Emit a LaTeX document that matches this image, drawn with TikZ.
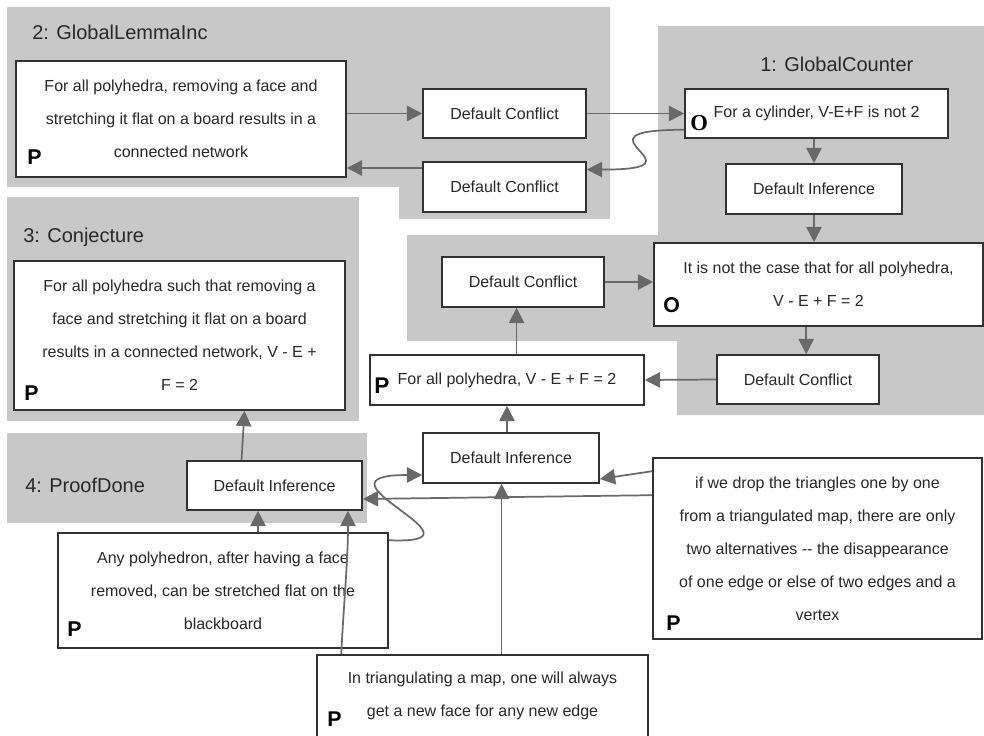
\documentclass[tikz,border=0pt]{standalone}
\usepackage{fontspec}
\setmainfont{Liberation Sans}
\newfontfamily\serifbold{Liberation Serif}
\usetikzlibrary{arrows.meta,calc,positioning}
\definecolor{regionfill}{RGB}{200,200,200}
\definecolor{linkgray}{RGB}{105,105,105}
\definecolor{boxline}{RGB}{50,50,50}
\definecolor{inktext}{RGB}{40,40,40}
\newdimen\pxu \pxu=0.75pt
\begin{document}
\begin{tikzpicture}[x=0.75pt, y=-0.75pt,
	region/.style={fill=regionfill, draw=none},
	regiontitle/.style={anchor=base west, inner sep=0, text=inktext, font=\fontsize{15}{18}\selectfont},
	claim/.style={draw=boxline, fill=white, line width=1.2pt, inner sep=0, align=center, text=inktext, font=\fontsize{12}{24.75}\selectfont},
	plabel/.style={anchor=west, inner sep=0, text=black, font=\fontsize{16}{16}\selectfont\bfseries},
	arrow/.style={draw=linkgray, line width=1.3pt, -{Triangle[length=11.5pt,width=11.5pt]}}]
	\useasboundingbox (0,0) rectangle (984,735);

	% argument regions
	\fill[region] (7,7) -- (610,7) -- (610,219) -- (399,219) -- (399,187) -- (7,187) -- cycle;
	\fill[region] (658,26) -- (984,26) -- (984,415) -- (677,415) -- (677,341) -- (407,341) -- (407,235) -- (658,235) -- cycle;
	\fill[region] (7,197) rectangle (359,421);
	\fill[region] (7,433) rectangle (367,523);
	\node[regiontitle] (t2) at (32,40) {2: GlobalLemmaInc};
	\node[regiontitle] (t1) at (760,71) {1: GlobalCounter};
	\node[regiontitle] (t3) at (23,242) {3: Conjecture};
	\node[regiontitle] (t4) at (25,492) {4: ProofDone};

	% claims and rules
	\node[claim, minimum width=330\pxu, minimum height=116\pxu] (lemma) at (181,119)
		{For all polyhedra, removing a face and\\stretching it flat on a board results in a\\connected network};
	\node[claim, minimum width=163\pxu, minimum height=49\pxu] (conflA) at (504.5,113.5) {Default Conflict};
	\node[claim, minimum width=163\pxu, minimum height=50\pxu] (conflB) at (504.5,187) {Default Conflict};
	\node[claim, minimum width=263\pxu, minimum height=49\pxu] (counter) at (816.5,113.5) {For a cylinder, V-E+F is not 2};
	\node[claim, minimum width=176\pxu, minimum height=50\pxu] (infA) at (814,189) {Default Inference};
	\node[claim, minimum width=329\pxu, minimum height=83\pxu] (notall) at (818.5,284.5)
		{It is not the case that for all polyhedra,\\V - E + F = 2};
	\node[claim, minimum width=162\pxu, minimum height=50\pxu] (conflC) at (523,282) {Default Conflict};
	\node[claim, minimum width=162\pxu, minimum height=49\pxu] (conflD) at (798,379.5) {Default Conflict};
	\node[claim, minimum width=274\pxu, minimum height=50\pxu] (euler) at (507,380) {For all polyhedra, V - E + F = 2};
	\node[claim, minimum width=176\pxu, minimum height=50\pxu] (infB) at (511,458) {Default Inference};
	\node[claim, minimum width=331\pxu, minimum height=149\pxu] (conj) at (179.5,335.5)
		{For all polyhedra such that removing a\\face and stretching it flat on a board\\results in a connected network, V - E +\\F = 2};
	\node[claim, minimum width=175\pxu, minimum height=49\pxu] (infC) at (274.5,485.5) {Default Inference};
	\node[claim, minimum width=330\pxu, minimum height=115\pxu] (anypoly) at (223,590.5)
		{Any polyhedron, after having a face\\removed, can be stretched flat on the\\blackboard};
	\node[claim, minimum width=329\pxu, minimum height=181\pxu] (drop) at (817.5,548.5)
		{if we drop the triangles one by one\\from a triangulated map, there are only\\two alternatives -{}- the disappearance\\of one edge or else of two edges and a\\vertex};
	\node[claim, minimum width=331\pxu, minimum height=82\pxu] (tri) at (482.5,696)
		{In triangulating a map, one will always\\get a new face for any new edge};

	% P and O marks
	\node[plabel] (pLemma) at ($(lemma.south west)+(12,-21)$) {P};
	\node[plabel] (pConj) at ($(conj.south west)+(11,-18)$) {P};
	\node[plabel] (pAny) at ($(anypoly.south west)+(10,-20)$) {P};
	\node[plabel] (pDrop) at ($(drop.south west)+(14,-17)$) {P};
	\node[plabel] (pTri) at ($(tri.north west)+(11,65)$) {P};
	\node[plabel, font=\fontsize{17}{17}\selectfont\bfseries] (pEuler) at ($(euler.west)+(5,6)$) {P};
	\node[plabel, font=\fontsize{17}{17}\selectfont\serifbold\bfseries] (oCounter) at ($(counter.west)+(6,10)$) {O};
	\node[plabel] (oNotall) at ($(notall.west)+(10,20.5)$) {O};

	% links
	\draw[arrow] (conflA.west -| lemma.east) -- (conflA.west);
	\draw[arrow] (conflA.east) -- (counter.west);
	\draw[arrow] (counter.187) .. controls (560,130) and (715,170) .. (conflB.12);
	\draw[arrow] (conflB.167.5) -- (conflB.167.5 -| lemma.east);
	\draw[arrow] (infA.north |- counter.south) -- (infA.north);
	\draw[arrow] (infA.south) -- (infA.south |- notall.north);
	\draw[arrow] (notall.south -| conflD.72) -- (conflD.72);
	\draw[arrow] (conflD.west) -- (euler.east);
	\draw[arrow] (euler.north -| conflC.256.5) -- (conflC.256.5);
	\draw[arrow] (conflC.east) -- (conflC.east -| notall.west);
	\draw[arrow] (infB.north -| euler.south) -- (euler.south);
	\draw[arrow] ($(infC.north)+(-33,0)$) -- ($(conj.south)+(65,0)$);
	\coordinate (anytop) at ($(anypoly.north)+(35,0)$);
	\draw[arrow] (anytop) -- (anytop |- infC.south);
	\draw[arrow] ($(anypoly.north east)+(0,8)$) .. controls (500,545) and (300,475) .. ($(infB.west)+(0,17)$);
	\draw[arrow] (tri.north -| infB.250.2) -- (infB.250.2);
	\draw[arrow] ($(tri.north west)+(25,0)$) .. controls (344,600) and (348,560) .. (infC.341.6);
	\draw[arrow] ($(drop.north west)+(0,14)$) -- ($(infB.east)+(0,21)$);
	\draw[arrow] ($(drop.north west)+(0,38)$) -- ($(infC.east)+(0,13.5)$);
\end{tikzpicture}
\end{document}
